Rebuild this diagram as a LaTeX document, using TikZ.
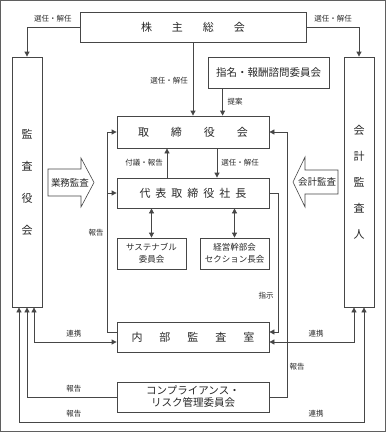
\documentclass[tikz,border=0pt]{standalone}
\usepackage{fontspec}
\setmainfont{Noto Sans CJK JP}
\usepackage{xcolor}
\usetikzlibrary{arrows.meta, positioning, calc}
\definecolor{ink}{RGB}{40, 40, 40}
\definecolor{linegray}{RGB}{70, 70, 70}
\definecolor{framegray}{RGB}{95, 95, 95}
\tikzset{
    box/.style={rectangle, draw=linegray, line width=0.8pt, fill=white, align=center, inner sep=0pt, text=ink, font=\fontsize{11}{13}\selectfont},
    tallbox/.style={box, minimum width=30pt, minimum height=250pt},
    widebox/.style={box, minimum width=152pt, minimum height=30pt},
    smallbox/.style={box, minimum width=69pt, minimum height=31pt, font=\fontsize{8.5}{12}\selectfont},
    lbl/.style={inner sep=1pt, text=ink, font=\fontsize{7.5}{9}\selectfont},
    conn/.style={linegray, line width=0.8pt},
    arr/.style={conn, -{Triangle[length=5pt, width=5pt]}},
    dblarr/.style={conn, {Triangle[length=5pt, width=5pt]}-{Triangle[length=5pt, width=5pt]}},
    bigarrow/.style={draw=linegray, line width=0.6pt, fill=white},
    frame/.style={draw=framegray, line width=1.2pt}
}
\begin{document}
\begin{tikzpicture}[x=1pt, y=-1pt]
    \useasboundingbox (0,0) rectangle (386,432);
    \draw[frame] (0.6,0.6) rectangle (385.4,431.4);
    % boxes
    \node[box, minimum width=226pt, minimum height=30pt] (kabu) at (193,27) {株\hspace{20pt}主\hspace{20pt}総\hspace{20pt}会};
    \node[tallbox] (kansa) at (27,182) {監\\[19pt]査\\[19pt]役\\[19pt]会};
    \node[tallbox] (kaikei) at (359,182) {会\\[13pt]計\\[13pt]監\\[13pt]査\\[13pt]人};
    \node[box, minimum width=121pt, minimum height=31pt, font=\fontsize{10.5}{12}\selectfont] (shimei) at (268.5,72.5) {指名・報酬諮問委員会};
    \node[widebox, minimum height=32pt] (torishimari) at (193,132) {取\hspace{22pt}締\hspace{22pt}役\hspace{22pt}会};
    \node[widebox] (daihyo) at (193,193) {代\hspace{5pt}表\hspace{5pt}取\hspace{5pt}締\hspace{5pt}役\hspace{5pt}社\hspace{5pt}長};
    \node[smallbox] (sustain) at (151.5,253.5) {サステナブル\\委員会};
    \node[smallbox] (keiei) at (234.5,253.5) {経営幹部会\\セクション長会};
    \node[widebox] (naibu) at (193,337) {内\hspace{17pt}部\hspace{17pt}監\hspace{17pt}査\hspace{17pt}室};
    \node[widebox, font=\fontsize{10.5}{12}\selectfont] (comp) at (193,397) {コンプライアンス・\\リスク管理委員会};
    % audit arrows
    \draw[bigarrow] (48,169) -- (81,169) -- (81,158) -- (94,182.5) -- (81,207) -- (81,196) -- (48,196) -- cycle;
    \node[lbl, font=\fontsize{9.5}{11}\selectfont] (gyomu) at (70,183) {業務監査};
    \draw[bigarrow] (338,170) -- (305,170) -- (305,157) -- (293,182) -- (305,207) -- (305,194) -- (338,194) -- cycle;
    \node[lbl, font=\fontsize{9.5}{11}\selectfont] (kaikeikansa) at (317,182) {会計監査};
    % connectors
    \draw[arr] (kabu.west) -| (kansa.north);
    \node[lbl] (senL) at (53,19) {選任・解任};
    \draw[arr] (kabu.east) -| (kaikei.north);
    \node[lbl] (senR) at (333,19) {選任・解任};
    \draw[arr] (kabu.south) -- (torishimari.north);
    \node[lbl] (senC) at (169,81) {選任・解任};
    \draw[arr] ([xshift=15pt]shimei.south west) -- ([xshift=15pt]shimei.south west |- torishimari.north);
    \node[lbl] (teian) at (235,102) {提案};
    \draw[arr] ([xshift=-26pt]daihyo.north) -- ([xshift=-26pt]torishimari.south);
    \node[lbl] (fugi) at (144,163) {付議・報告};
    \draw[arr] ([xshift=24pt]torishimari.south) -- ([xshift=24pt]daihyo.north);
    \node[lbl] (senD) at (240,163) {選任・解任};
    \draw[dblarr] (sustain.north) -- (sustain.north |- daihyo.south);
    \draw[dblarr] (keiei.north) -- (keiei.north |- daihyo.south);
    \draw[arr] ([yshift=5pt]naibu.west) -- ++(-9,0) |- (torishimari.west);
    \draw[arr] ([xshift=-9pt]daihyo.west) -- (daihyo.west);
    \node[lbl] (hokokuL) at (96,233) {報告};
    \draw[arr] (daihyo.east) -- ++(9,0) |- ([yshift=5pt]naibu.east);
    \node[lbl] (shiji) at (266,296) {指示};
    \draw[arr] (comp.east) -- ++(18,0) |- (torishimari.east);
    \node[lbl] (hokokuR) at (297,367) {報告};
    \draw[dblarr] ([yshift=-5pt]naibu.east) -| ([xshift=-5pt]kaikei.south);
    \node[lbl] (renkeiR) at (316,334) {連携};
    \draw[dblarr] ([xshift=7pt]kansa.south) |- ([yshift=-5pt]naibu.west);
    \node[lbl] (renkeiL) at (74,334) {連携};
    \draw[arr] (comp.west) -| (kansa.south);
    \node[lbl] (hokokuC) at (74,389) {報告};
    \draw[dblarr] ([xshift=-8pt]kansa.south) -- ++(0,115) -| ([xshift=5pt]kaikei.south);
    \node[lbl] (hokokuB) at (74,414) {報告};
    \node[lbl] (renkeiB) at (316,414) {連携};
\end{tikzpicture}
\end{document}
